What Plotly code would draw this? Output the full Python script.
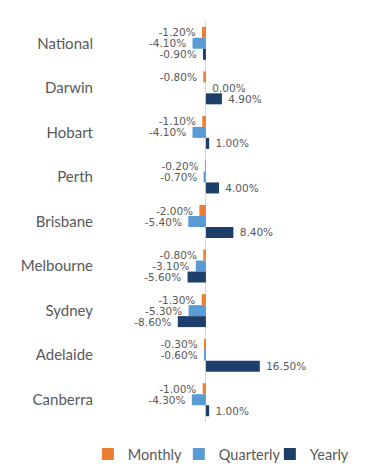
import plotly.graph_objects as go

cities = ["National", "Darwin", "Hobart", "Perth", "Brisbane", "Melbourne", "Sydney", "Adelaide", "Canberra"]
monthly = [-1.2, -0.8, -1.1, -0.2, -2.0, -0.8, -1.3, -0.3, -1.0]
quarterly = [-4.1, 0.0, -4.1, -0.7, -5.4, -3.1, -5.3, -0.6, -4.3]
yearly = [-0.9, 4.9, 1.0, 4.0, 8.4, -5.6, -8.6, 16.5, 1.0]

series = [("Monthly", monthly, "#ED7D31"), ("Quarterly", quarterly, "#5B9BD5"), ("Yearly", yearly, "#1F3F6B")]

NB = "\u00a0"

def label(v):
    s = f"{v:.2f}%"
    return s + NB if v < 0 else NB + s

fig = go.Figure()
for name, vals, col in series:
    fig.add_trace(go.Bar(
        y=cities, x=vals, name=name, orientation="h",
        marker=dict(color=col, line=dict(width=0)),
        text=[label(v) for v in vals], textposition="outside",
        constraintext="none",
        textfont=dict(color="#595959", size=10.5, family="DejaVu Sans"),
        cliponaxis=False,
    ))

fig.update_layout(
    width=366, height=459,
    margin=dict(l=92, r=4, t=13, b=45, autoexpand=False),
    barmode="group", bargap=0.26, bargroupgap=0,
    plot_bgcolor="white", paper_bgcolor="white",
    font=dict(family="Lato", color="#595959", size=15),
    showlegend=True,
    legend=dict(orientation="h", x=-0.045, xanchor="left", y=-0.04, yanchor="top",
                font=dict(size=14.5, color="#595959"), traceorder="normal",
                itemwidth=30, tracegroupgap=0, entrywidth=46),
)
fig.update_xaxes(range=[-32.4, 50.2], showgrid=False, showticklabels=False, automargin=False,
                 zeroline=True, zerolinecolor="#D9D9D9", zerolinewidth=1)
fig.update_yaxes(autorange="reversed", showgrid=False, ticks="", ticklabelstandoff=6, automargin=False)

fig.write_html("out.html")
